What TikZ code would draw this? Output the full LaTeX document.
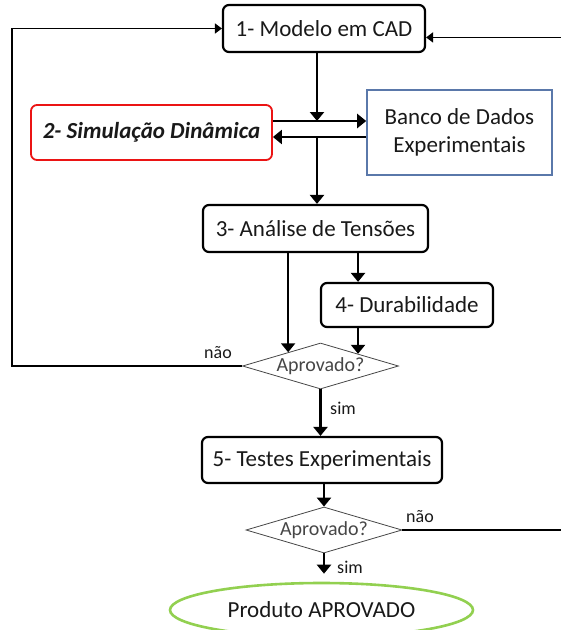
\documentclass[tikz,border=0pt]{standalone}
\usepackage{fontspec}
\setmainfont{Carlito}
\usetikzlibrary{shapes.geometric,arrows.meta,positioning}
\definecolor{vermelho}{RGB}{235,20,20}
\definecolor{azulbd}{RGB}{90,120,170}
\definecolor{verde}{RGB}{146,208,80}
\definecolor{cinza}{RGB}{70,70,70}

\begin{document}
\begin{tikzpicture}[x=1pt,y=-1pt,
    etapa/.style={draw,line width=2.2pt,rounded corners=6pt,inner sep=0pt,
      font=\fontsize{23}{28}\selectfont,text=black!90},
    decisao/.style={diamond,draw=cinza,line width=0.8pt,aspect=3.4,inner sep=0pt,
      minimum width=156pt,minimum height=46pt,text=cinza,
      font=\fontsize{20}{24}\selectfont},
    rotulo/.style={font=\fontsize{18}{21}\selectfont,text=black!90},
    seta/.style={line width=2.6pt,-{Triangle[length=9pt,width=14pt]}},
    laco/.style={line width=1.6pt,-{Triangle[length=7pt,width=10pt]}}]
  \useasboundingbox (0,0) rectangle (561,630);
  \clip (0,0) rectangle (561,630);
  % etapas
  \node[etapa,minimum width=202pt,minimum height=47pt] (cad) at (324,28.5) {1- Modelo em CAD};
  \node[etapa,draw=vermelho,line width=1.8pt,minimum width=241pt,minimum height=55pt,
    font=\fontsize{23}{28}\selectfont\bfseries\itshape] (simul) at (151.5,132.5) {2- Simulação Dinâmica};
  \node[draw=azulbd,line width=1.6pt,minimum width=185pt,minimum height=85pt,align=center,
    font=\fontsize{23}{28}\selectfont,text=black!90] (banco) at (459.5,132.5) {Banco de Dados\\Experimentais};
  \node[etapa,minimum width=225pt,minimum height=47pt] (tens) at (315.5,228.5) {3- Análise de Tensões};
  \node[etapa,minimum width=172pt,minimum height=44pt] (dura) at (407,305) {4- Durabilidade};
  \node[decisao] (apr1) at (320.5,366) {Aprovado?};
  \node[etapa,minimum width=240pt,minimum height=46pt] (teste) at (322,460) {5- Testes Experimentais};
  \node[decisao] (apr2) at (324,530) {Aprovado?};
  \node[ellipse,draw=verde,line width=2.6pt,minimum width=303pt,minimum height=54pt,
    font=\fontsize{23}{28}\selectfont,text=black!90] (prod) at (321.5,610) {Produto APROVADO};
  % pontos auxiliares
  \path (317,121) coordinate (j1);
  \path (317,137) coordinate (j2);
  \path (12,0) coordinate (esq);
  \path (600,0) coordinate (dir);
  % ligacoes
  \draw[seta] (cad.south -| j1) -- (j1);
  \draw[seta] (simul.east |- j1) -- (banco.west |- j1);
  \draw[seta] (banco.west |- j2) -- (simul.east |- j2);
  \draw[seta] (j2) -- (tens.north -| j2);
  \draw[seta] (tens.south -| apr1.157) -- (apr1.157);
  \draw[seta] (tens.south -| apr1.18) -- (dura.north -| apr1.18);
  \draw[seta] (dura.south -| apr1.18) -- (apr1.18);
  \draw[seta] (apr1.south) -- (teste.north -| apr1.south);
  \draw[seta] (teste.south -| apr2.north) -- (apr2.north);
  \draw[seta] (apr2.south) -- ([yshift=8pt]prod.north -| apr2.south);
  \draw[laco] (apr1.west) -- (apr1.west -| esq) |- (cad.west);
  \draw[laco] (apr2.east) -- (apr2.east -| dir) |- (cad.-5);
  % rotulos
  \node[rotulo] (nao1) at (218,353) {não};
  \node[rotulo] (sim1) at (343,408) {sim};
  \node[rotulo] (nao2) at (420,517) {não};
  \node[rotulo] (sim2) at (350,567) {sim};
\end{tikzpicture}
\end{document}
